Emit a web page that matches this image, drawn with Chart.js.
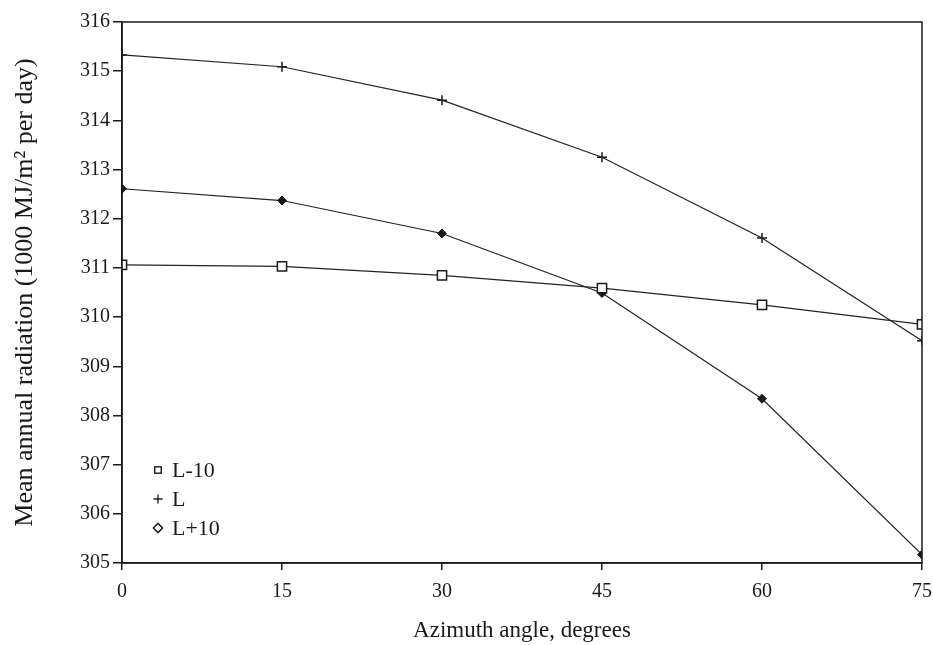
<!DOCTYPE html>
<html>
<head>
<meta charset="utf-8">
<script src="https://cdn.jsdelivr.net/npm/chart.js@4/dist/chart.umd.min.js"></script>
<style>
  html, body { margin: 0; padding: 0; background: #ffffff; }
  #wrap { width: 933px; height: 645px; }
</style>
</head>
<body>
<div id="wrap"><canvas id="c" width="933" height="645"></canvas></div>
<script>
// ---- data ----
const azimuth = [0, 15, 30, 45, 60, 75];
const seriesLminus10 = [311.06, 311.03, 310.85, 310.59, 310.25, 309.85];
const seriesL        = [315.33, 315.09, 314.41, 313.25, 311.61, 309.52];
const seriesLplus10  = [312.61, 312.37, 311.70, 310.49, 308.34, 305.17];
const seriesLabels = ['L-10', 'L', 'L+10'];
const xTicks = [0, 15, 30, 45, 60, 75];
const yTicks = [305, 306, 307, 308, 309, 310, 311, 312, 313, 314, 315, 316];
const xTitle = 'Azimuth angle, degrees';
const yTitle = 'Mean annual radiation (1000 MJ/m\u00B2 per day)';

const INK = '#1a1a1a';
const FONT = "'Liberation Serif', 'Times New Roman', serif";

function pts(vals) { return azimuth.map((x, i) => ({ x: x, y: vals[i] })); }

const frame = {
  id: 'frame',
  afterDatasetsDraw(chart) {
    const { ctx, chartArea: a } = chart;
    ctx.save();
    ctx.strokeStyle = INK;
    ctx.lineWidth = 1.5;
    ctx.strokeRect(a.left, a.top, a.right - a.left, a.bottom - a.top);
    ctx.restore();
  }
};

const innerLegend = {
  id: 'innerLegend',
  afterDraw(chart) {
    const { ctx, chartArea: a } = chart;
    ctx.save();
    const x0 = a.left + 36, y0 = a.bottom - 93, step = 29;
    ctx.font = '22px ' + FONT;
    ctx.textBaseline = 'middle';
    chart.data.datasets.forEach((ds, i) => {
      const y = y0 + i * step;
      ctx.strokeStyle = INK;
      ctx.lineWidth = 1.3;
      ctx.fillStyle = '#ffffff';
      Chart.helpers.drawPoint(ctx, { pointStyle: ds.pointStyle, radius: 4.5, rotation: 0, borderWidth: 1.3 }, x0, y);
      if (ds.pointStyle !== 'cross') { ctx.fill(); ctx.stroke(); }
      ctx.fillStyle = INK;
      ctx.fillText(ds.label, x0 + 14, y + 1);
    });
    ctx.restore();
  }
};

const common = { borderColor: '#222222', borderWidth: 1.2, showLine: true, tension: 0, pointBorderColor: INK };

new Chart(document.getElementById('c'), {
  type: 'scatter',
  data: {
    datasets: [
      Object.assign({}, common, { label: seriesLabels[0], data: pts(seriesLminus10), pointStyle: 'rect', pointRadius: 6.5, pointBackgroundColor: '#ffffff', pointBorderWidth: 1.5 }),
      Object.assign({}, common, { label: seriesLabels[1], data: pts(seriesL), pointStyle: 'cross', pointRadius: 5, pointBorderWidth: 1.5 }),
      Object.assign({}, common, { label: seriesLabels[2], data: pts(seriesLplus10), pointStyle: 'rectRot', pointRadius: 4.5, pointBackgroundColor: INK, pointBorderWidth: 1 })
    ]
  },
  options: {
    responsive: false,
    animation: false,
    layout: { padding: { top: 22, right: 11, left: 0, bottom: 0 } },
    plugins: { legend: { display: false }, tooltip: { enabled: false } },
    scales: {
      x: {
        type: 'linear', min: 0, max: 75,
        afterBuildTicks(s) { s.ticks = xTicks.map(v => ({ value: v })); },
        afterFit(s) { s.height = 82; s.paddingLeft = 0; s.paddingRight = 0; },
        grid: { display: true, drawOnChartArea: false, drawTicks: true, tickLength: 7, color: INK, lineWidth: 1.5 },
        border: { display: true, color: INK, width: 1.5 },
        ticks: { color: INK, font: { family: FONT, size: 20 }, padding: 10, maxRotation: 0 },
        title: { display: true, text: xTitle, color: INK, font: { family: FONT, size: 23 }, padding: { top: 2, bottom: 0 } }
      },
      y: {
        type: 'linear', min: 305, max: 316,
        afterBuildTicks(s) { s.ticks = yTicks.map(v => ({ value: v })); },
        afterFit(s) { s.width = 122; s.paddingTop = 0; s.paddingBottom = 0; },
        grid: { display: true, drawOnChartArea: false, drawTicks: true, tickLength: 9, color: INK, lineWidth: 1.5 },
        border: { display: true, color: INK, width: 1.5 },
        ticks: { color: INK, font: { family: FONT, size: 20 }, padding: 3 },
        title: { display: true, text: yTitle, color: INK, font: { family: FONT, size: 26 }, padding: { top: 10, bottom: 0 } }
      }
    }
  },
  plugins: [frame, innerLegend]
});
</script>
</body>
</html>
